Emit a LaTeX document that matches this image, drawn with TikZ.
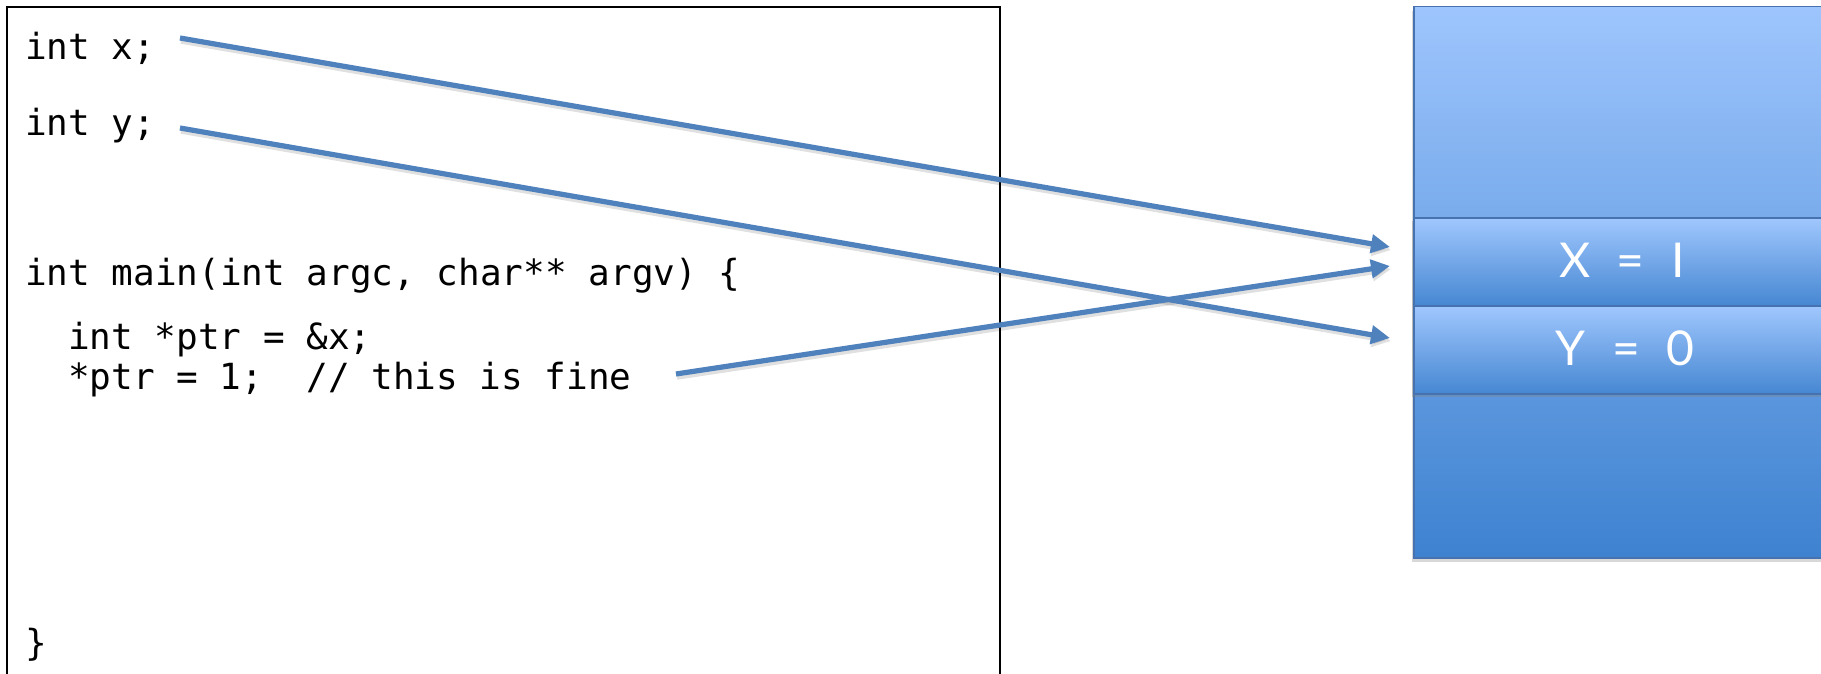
\documentclass[tikz,border=0pt]{standalone}
\usepackage{fontspec}
\newfontfamily\codefont{DejaVu Sans Mono}
\newfontfamily\slotfont{Lato}
\usetikzlibrary{arrows.meta,shadows}
\definecolor{arrowblue}{RGB}{79,129,189}
\definecolor{stacktop}{RGB}{158,197,253}
\definecolor{stackbot}{RGB}{62,130,208}
\definecolor{slottop}{RGB}{160,199,254}
\definecolor{slotbot}{RGB}{70,135,210}
\definecolor{stackedge}{RGB}{70,115,175}
\begin{document}
\begin{tikzpicture}[x=1pt,y=-1pt,
  code/.style={anchor=base west, inner sep=0pt, font=\codefont\fontsize{36}{40}\selectfont},
  ptr/.style={draw=arrowblue, line width=5.2pt, -{Triangle[length=19pt,width=18pt]}},
  ptrshadow/.style={draw=black, opacity=0.12, line width=5.5pt, -{Triangle[length=19pt,width=18pt]}},
  slot/.style={draw=stackedge, line width=1.5pt, top color=slottop, bottom color=slotbot, anchor=north west, minimum width=440pt, minimum height=88pt, inner sep=0pt, drop shadow={shadow xshift=-2pt, shadow yshift=-3pt, opacity=0.35}},
  slottext/.style={text=white, font=\slotfont\fontsize{48}{54}\selectfont, inner sep=0pt}
]
\useasboundingbox (0,0) rectangle (1821,674);
\clip (0,0) rectangle (1821,674);
\fill[white] (0,0) rectangle (1821,674);

% code box
\node[draw=black, line width=2.2pt, anchor=north west, minimum width=993pt, minimum height=720pt, inner sep=0pt] (codebox) at (6,6) {};

\node[code] (lx) at (25,60) {int x;};
\node[code] (ly) at (25,136) {int y;};
\node[code] (lmain) at (25,285) {int main(int argc, char** argv) \{};
\node[code] (lptr) at (68,349) {int *ptr = \&x;};
\node[code] (lfine) at (68,389) {*ptr = 1;\ \ // this is fine};
\node[code] (lend) at (25,655) {\}};

% memory stack
\node[draw=stackedge, line width=1.5pt, top color=stacktop, bottom color=stackbot, anchor=north west, minimum width=440pt, minimum height=551pt, inner sep=0pt, drop shadow={shadow xshift=-2pt, shadow yshift=-4pt, opacity=0.3}] (stack) at (1413,6) {};
\node[slot] (xslot) at (1413,217) {};
\node[slot] (yslot) at (1413,305) {};
\node[slottext] (xtext) at (1622,260) {X\hspace{0.55em}=\hspace{0.55em}I};
\node[slottext] (ytext) at (1625,348) {Y\hspace{0.55em}=\hspace{0.55em}0};

% connector ends
\coordinate (sx) at (180,38);
\coordinate (sy) at (180,128);
\coordinate (sp) at (676,374);
\coordinate (tx) at (1390,247);
\coordinate (tp) at (1390,266);
\coordinate (ty) at (1390,338);

\draw[ptrshadow] ([shift={(1,3)}]sx) -- ([shift={(1,3)}]tx);
\draw[ptrshadow] ([shift={(1,3)}]sy) -- ([shift={(1,3)}]ty);
\draw[ptrshadow] ([shift={(1,3)}]sp) -- ([shift={(1,3)}]tp);
\draw[ptr] (sx) -- (tx);
\draw[ptr] (sy) -- (ty);
\draw[ptr] (sp) -- (tp);
\end{tikzpicture}
\end{document}
